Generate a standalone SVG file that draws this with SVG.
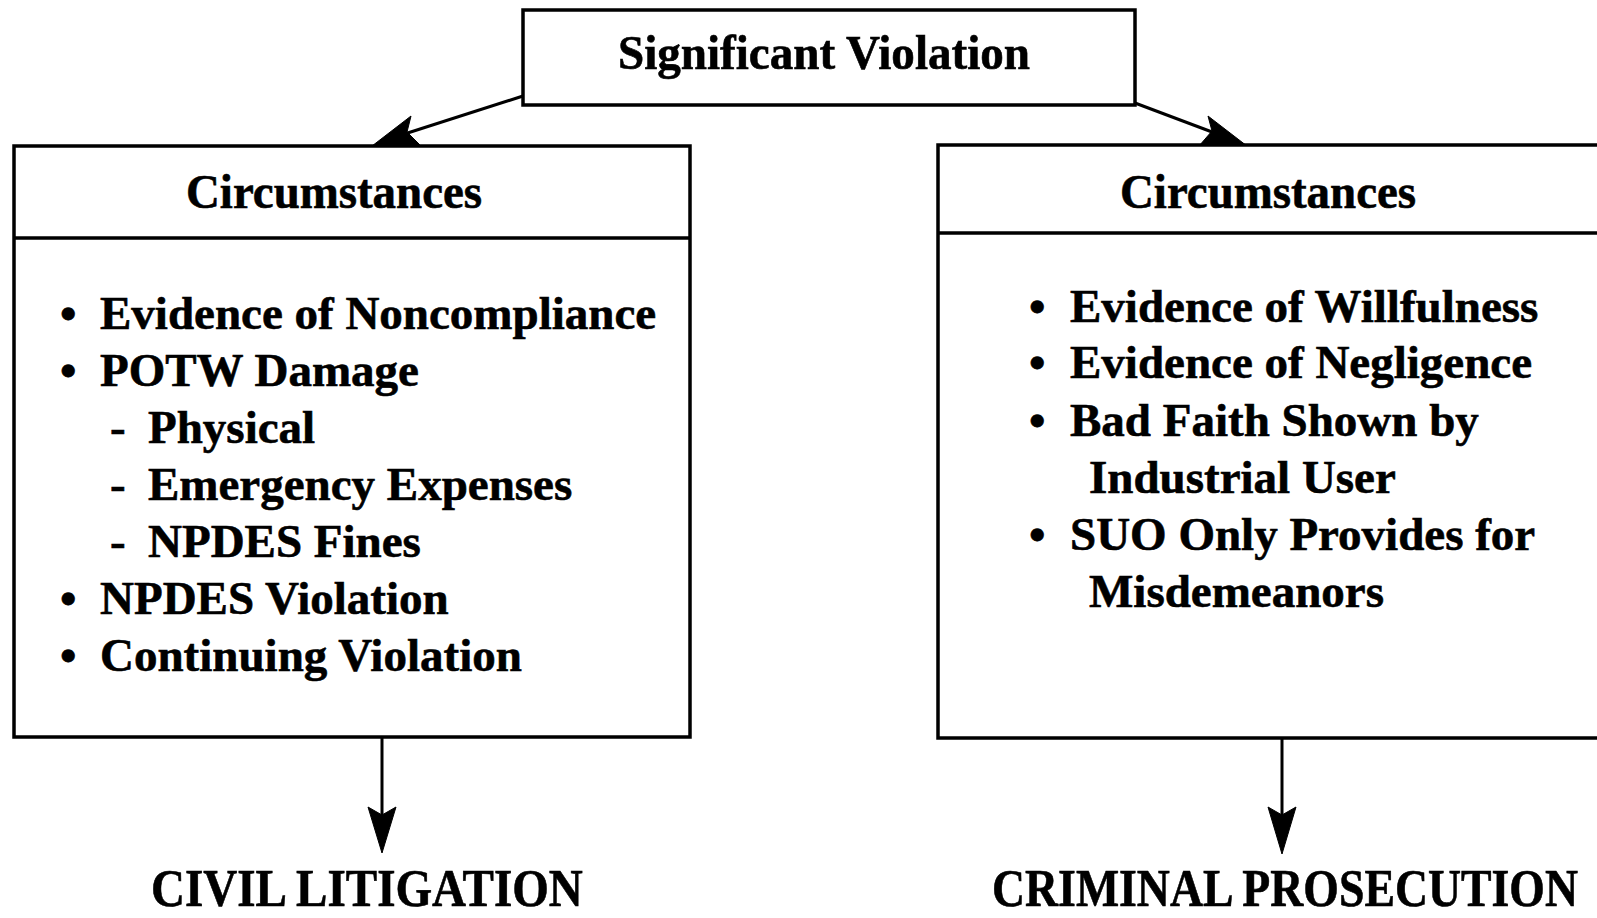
<svg xmlns="http://www.w3.org/2000/svg" width="1597" height="918" viewBox="0 0 1597 918">
  <style>
    .box { fill: #ffffff; stroke: #000000; stroke-width: 3.5; }
    .div { stroke: #000000; stroke-width: 3.5; fill: none; }
    .conn { stroke: #000000; stroke-width: 3; fill: none; }
    .head { fill: #000000; stroke: #000000; stroke-width: 1; stroke-linejoin: round; }
    text { font-family: "Liberation Serif", "Times New Roman", serif; font-weight: bold; fill: #000000; stroke: #000000; stroke-width: 0.6; }
    .title { font-size: 49px; }
    .hdr { font-size: 49px; }
    .item { font-size: 47px; }
    .out { font-size: 52px; }
  </style>
  <rect width="1597" height="918" fill="#ffffff"/>

  <g id="connectors">
    <line class="conn" x1="523" y1="96" x2="392" y2="138"/>
    <polygon class="head" points="372,146 411,116 407,132 421,146"/>
    <line class="conn" x1="1135" y1="103" x2="1228" y2="138"/>
    <polygon class="head" points="1247,146 1208,116 1212,131 1199,146"/>
    <line class="conn" x1="382" y1="737" x2="382" y2="815"/>
    <polygon class="head" points="368,807 382,815 396,807 382,853"/>
    <line class="conn" x1="1282" y1="738" x2="1282" y2="815"/>
    <polygon class="head" points="1268,807 1282,815 1296,807 1282,854"/>
  </g>

  <g id="significant-violation">
    <rect class="box" x="523" y="10" width="612" height="95"/>
    <text class="title" x="824" y="69" text-anchor="middle" textLength="412" lengthAdjust="spacingAndGlyphs">Significant Violation</text>
  </g>

  <g id="civil-circumstances">
    <rect class="box" x="14" y="146" width="676" height="591"/>
    <line class="div" x1="14" y1="238" x2="690" y2="238"/>
    <text class="hdr" x="334" y="208" text-anchor="middle" textLength="296" lengthAdjust="spacingAndGlyphs">Circumstances</text>
    <text class="item" x="60" y="329">•</text>
    <text class="item" x="100" y="329">Evidence of Noncompliance</text>
    <text class="item" x="60" y="386">•</text>
    <text class="item" x="100" y="386">POTW Damage</text>
    <text class="item" x="110" y="443">-</text>
    <text class="item" x="148" y="443">Physical</text>
    <text class="item" x="110" y="500">-</text>
    <text class="item" x="148" y="500">Emergency Expenses</text>
    <text class="item" x="110" y="557">-</text>
    <text class="item" x="148" y="557">NPDES Fines</text>
    <text class="item" x="60" y="614">•</text>
    <text class="item" x="100" y="614">NPDES Violation</text>
    <text class="item" x="60" y="671">•</text>
    <text class="item" x="100" y="671">Continuing Violation</text>
  </g>

  <g id="criminal-circumstances">
    <rect class="box" x="938" y="145" width="700" height="593"/>
    <line class="div" x1="938" y1="233" x2="1638" y2="233"/>
    <text class="hdr" x="1268" y="208" text-anchor="middle" textLength="296" lengthAdjust="spacingAndGlyphs">Circumstances</text>
    <text class="item" x="1029" y="322">•</text>
    <text class="item" x="1070" y="322">Evidence of Willfulness</text>
    <text class="item" x="1029" y="378">•</text>
    <text class="item" x="1070" y="378">Evidence of Negligence</text>
    <text class="item" x="1029" y="436">•</text>
    <text class="item" x="1070" y="436">Bad Faith Shown by</text>
    <text class="item" x="1089" y="493">Industrial User</text>
    <text class="item" x="1029" y="550">•</text>
    <text class="item" x="1070" y="550">SUO Only Provides for</text>
    <text class="item" x="1089" y="607">Misdemeanors</text>
  </g>

  <g id="civil-litigation">
    <text class="out" x="0" y="0" transform="translate(151,906) scale(0.905,1)">CIVIL LITIGATION</text>
  </g>

  <g id="criminal-prosecution">
    <text class="out" x="0" y="0" transform="translate(992,906) scale(0.88,1)">CRIMINAL PROSECUTION</text>
  </g>
</svg>
